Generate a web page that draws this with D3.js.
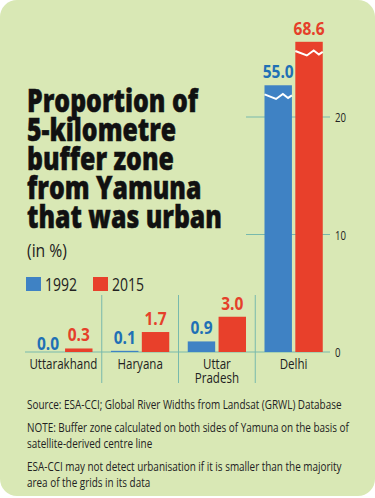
<!DOCTYPE html>
<html>
<head>
<meta charset="utf-8">
<script src="https://cdn.jsdelivr.net/npm/d3@7"></script>
<style>
  html, body { margin: 0; padding: 0; background: #fff; }
  svg { display: block; }
  text { font-family: "Open Sans", "Noto Sans", sans-serif; }
</style>
</head>
<body>
<div id="chart"></div>
<script>
'use strict';

var categories = ['Uttarakhand', 'Haryana', 'Uttar Pradesh', 'Delhi'];
var years = ['1992', '2015'];
var values1992 = [0.0, 0.1, 0.9, 55.0];
var values2015 = [0.3, 1.7, 3.0, 68.6];
// Delhi bars are off the scale, they are cut and drawn up to these axis values
var delhiDrawnTo = [22.7, 26.4];
var yTicks = [0, 10, 20];
var titleLines = ['Proportion of', '5-kilometre', 'buffer zone', 'from Yamuna', 'that was urban'];
var notes = [
  ['Source: ESA-CCI; Global River Widths from Landsat (GRWL) Database'],
  ['NOTE: Buffer zone calculated on both sides of Yamuna on the basis of', 'satellite-derived centre line'],
  ['ESA-CCI may not detect urbanisation if it is smaller than the majority', 'area of the grids in its data']
];

(function () {
  var width = 375, height = 498;
  var blue = '#3f82c4', red = '#e8402b';
  var blueText = '#1f70b5', redText = '#e5402a';
  var teal = '#78b9ac';

  var svg = d3.select('#chart').append('svg')
      .attr('width', width)
      .attr('height', height);

  // the print font is condensed: squeeze texts sideways so the reference one gets the target width
  function squeeze(sel, refNode, target) {
    var k = target / refNode.getComputedTextLength();
    sel.each(function() {
      var t = d3.select(this);
      var x0 = +t.attr('x'), y0 = +t.attr('y');
      t.attr('x', 0).attr('y', 0)
        .attr('transform', 'translate(' + x0 + ',' + y0 + ') scale(' + k + ',1)');
      t.selectAll('tspan').attr('x', 0);
    });
  }

  svg.append('rect')
      .attr('x', 0).attr('y', 0)
      .attr('width', width).attr('height', 496)
      .attr('rx', 17)
      .attr('fill', '#d9e8b5');

  // title
  var title = svg.append('g').selectAll('text')
      .data(titleLines)
    .enter().append('text')
      .attr('x', 27)
      .attr('y', function(d, i) { return 112 + i * 29; })
      .attr('font-size', 32)
      .attr('font-weight', 800)
      .attr('fill', '#111')
      .attr('stroke', '#111')
      .attr('stroke-width', 0.5)
      .text(function(d) { return d; });
  squeeze(title, title.node(), 171);

  var inPct = svg.append('text')
      .attr('x', 27).attr('y', 257)
      .attr('font-size', 18)
      .attr('fill', '#222')
      .text('(in %)');
  squeeze(inPct, inPct.node(), 40);

  // legend
  var color = d3.scaleOrdinal().domain(years).range([blue, red]);
  var legend = svg.append('g').selectAll('g')
      .data(years)
    .enter().append('g')
      .attr('transform', function(d, i) { return 'translate(' + (26 + i * 67) + ',277)'; });
  legend.append('rect')
      .attr('width', 15).attr('height', 14)
      .attr('fill', function(d) { return color(d); });
  var legendText = legend.append('text')
      .attr('x', 19).attr('y', 13.5)
      .attr('font-size', 18)
      .attr('fill', '#222')
      .text(function(d) { return d; });
  squeeze(legendText, legendText.node(), 32);

  var x = d3.scaleBand().domain(categories).range([25, 332]);
  var xSub = d3.scaleBand().domain(years).range([0, x.bandwidth()])
      .paddingInner(0.11).paddingOuter(0.3);
  var y = d3.scaleLinear().domain([0, 20]).range([352, 117]);

  // gridlines
  svg.append('g').selectAll('line')
      .data(yTicks)
    .enter().append('line')
      .attr('x1', function(d) { return d === 0 ? 25 : 246; })
      .attr('x2', 330)
      .attr('y1', function(d) { return y(d); })
      .attr('y2', function(d) { return y(d); })
      .attr('stroke', teal)
      .attr('stroke-width', 1);
  var tickText = svg.append('g').selectAll('text')
      .data(yTicks)
    .enter().append('text')
      .attr('x', 335)
      .attr('y', function(d) { return y(d) + 5; })
      .attr('font-size', 13)
      .attr('fill', '#222')
      .text(function(d) { return d; });
  squeeze(tickText, tickText.nodes()[2], 11);

  // separators between states
  svg.append('g').selectAll('line')
      .data(categories.slice(1))
    .enter().append('line')
      .attr('x1', function(d) { return x(d); })
      .attr('x2', function(d) { return x(d); })
      .attr('y1', 295).attr('y2', 383)
      .attr('stroke', teal)
      .attr('stroke-width', 1);

  var rows = [];
  categories.forEach(function(c, i) {
    rows.push({ cat: c, year: '1992', value: values1992[i], yi: 0 });
    rows.push({ cat: c, year: '2015', value: values2015[i], yi: 1 });
  });
  function shown(d) { return d.value > 20 ? delhiDrawnTo[d.yi] : d.value; }

  var bars = svg.append('g').selectAll('g')
      .data(rows)
    .enter().append('g')
      .attr('transform', function(d) { return 'translate(' + (x(d.cat) + xSub(d.year)) + ',0)'; });
  bars.append('rect')
      .attr('x', 0)
      .attr('width', xSub.bandwidth())
      .attr('y', function(d) { return y(shown(d)); })
      .attr('height', function(d) { return y(0) - y(shown(d)); })
      .attr('fill', function(d) { return color(d.year); });

  // break marks on the cut bars
  var bw = xSub.bandwidth();
  bars.filter(function(d) { return d.value > 20; })
    .append('path')
      .attr('d', function(d) {
        var yb = y(shown(d) - 0.95);
        return 'M0,' + (yb - 2) + 'L' + (bw * 0.42) + ',' + (yb + 2.5) + 'L' + (bw * 0.67) + ',' + (yb - 2.5) +
          'L' + (bw * 0.86) + ',' + (yb + 1.5) + 'L' + bw + ',' + (yb - 1);
      })
      .attr('fill', 'none')
      .attr('stroke', '#fff')
      .attr('stroke-width', 2);

  var valText = bars.append('text')
      .attr('x', bw / 2)
      .attr('y', function(d) { return d.value === 0 ? y(0) - 2 : y(shown(d)) - 7; })
      .attr('text-anchor', 'middle')
      .attr('font-size', 18)
      .attr('font-weight', 'bold')
      .attr('fill', function(d) { return d.year === '1992' ? blueText : redText; })
      .text(function(d) { return d.value.toFixed(1); });
  squeeze(valText, valText.nodes()[6], 31);

  // state names
  var names = svg.append('g').selectAll('text')
      .data(categories)
    .enter().append('text')
      .attr('x', function(d) { return x(d) + x.bandwidth() / 2; })
      .attr('y', 369)
      .attr('text-anchor', 'middle')
      .attr('font-size', 15)
      .attr('fill', '#222');
  names.selectAll('tspan')
      .data(function(d) { return d === 'Uttar Pradesh' ? ['Uttar', 'Pradesh'] : [d]; })
    .enter().append('tspan')
      .attr('x', function() { return d3.select(this.parentNode).attr('x'); })
      .attr('dy', function(d, i) { return i === 0 ? 0 : 14; })
      .text(function(d) { return d; });
  squeeze(names, names.node(), 68);

  // notes
  var noteTop = [409, 432, 471];
  var noteG = svg.append('g');
  notes.forEach(function(lines, i) {
    noteG.append('g').selectAll('text')
        .data(lines)
      .enter().append('text')
        .attr('x', 27)
        .attr('y', function(d, j) { return noteTop[i] + j * 16; })
        .attr('font-size', 13)
        .attr('fill', '#222')
        .text(function(d) { return d; });
  });
  var noteText = noteG.selectAll('text');
  squeeze(noteText, noteText.node(), 315);
})();
</script>
</body>
</html>
